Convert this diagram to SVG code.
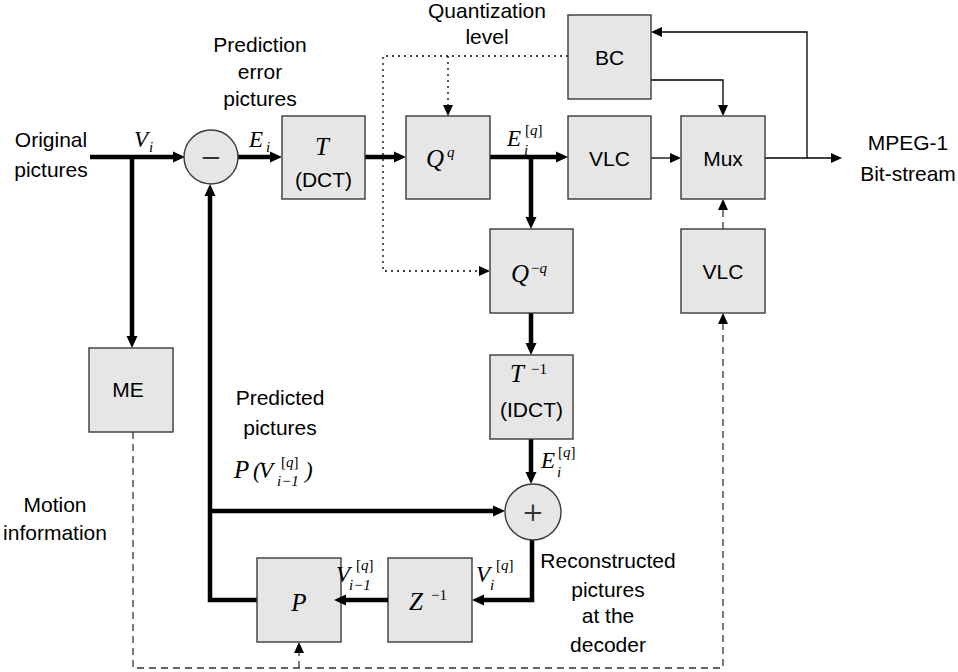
<svg xmlns="http://www.w3.org/2000/svg" width="958" height="672" viewBox="0 0 958 672">
<style>
.box{fill:#e6e6e6;stroke:#3a3a3a;stroke-width:1.4}
.t{font-family:"Liberation Sans","DejaVu Sans",sans-serif;font-size:21px;fill:#000;text-anchor:middle}
.op{font-family:"DejaVu Serif","Liberation Serif",serif;font-size:26px;fill:#333;text-anchor:middle}
.m{font-family:"Liberation Serif","DejaVu Serif",serif;font-style:italic;font-size:23px;fill:#000}
.c{font-family:"Liberation Serif","DejaVu Serif",serif;font-style:italic;font-size:25px;fill:#000}
.s{font-family:"Liberation Serif","DejaVu Serif",serif;font-style:italic;font-size:15px;fill:#000}
.r{font-family:"Liberation Serif","DejaVu Serif",serif;font-size:15px;fill:#000}
.thick{fill:none;stroke:#000;stroke-width:4.5}
.thin{fill:none;stroke:#000;stroke-width:1.3}
.dot{fill:none;stroke:#000;stroke-width:1.3;stroke-dasharray:2,4}
.dash{fill:none;stroke:#333;stroke-width:1.3;stroke-dasharray:7,5}
</style>
<defs>
<marker id="ab" markerUnits="userSpaceOnUse" markerWidth="14" markerHeight="14" refX="0" refY="6" orient="auto" overflow="visible">
<path d="M0,0.5 L12,6 L0,11.5 z" fill="#000"/>
</marker>
<marker id="as" markerUnits="userSpaceOnUse" markerWidth="12" markerHeight="12" refX="0" refY="5" orient="auto" overflow="visible">
<path d="M0,0 L11,5 L0,10 z" fill="#000"/>
</marker>
</defs>

<g id="connectors">
<path class="thick" d="M90,157 H173" marker-end="url(#ab)"/>
<path class="thick" d="M132,157 V336" marker-end="url(#ab)"/>
<path class="thick" d="M238,157 H270" marker-end="url(#ab)"/>
<path class="thick" d="M365,157 H394" marker-end="url(#ab)"/>
<path class="thick" d="M490,157 H556" marker-end="url(#ab)"/>
<path class="thick" d="M531,157 V217" marker-end="url(#ab)"/>
<path class="thick" d="M531,313 V343" marker-end="url(#ab)"/>
<path class="thick" d="M531,439 V472" marker-end="url(#ab)"/>
<path class="thick" d="M532,540 V600 H484" marker-end="url(#ab)"/>
<path class="thick" d="M257,600 H210 V196" marker-end="url(#ab)"/>
<path class="thick" d="M210,511 H493" marker-end="url(#ab)"/>
<path class="thin" d="M651,158 H670" marker-end="url(#as)"/>
<path class="thin" d="M765,158 H831" marker-end="url(#as)"/>
<path class="thin" d="M807,158 V32 H662" marker-end="url(#as)"/>
<path class="thin" d="M651,80 H723 V105" marker-end="url(#as)"/>
<path class="dot" d="M568,56 H383 V271 H479" marker-end="url(#as)"/>
<path class="dot" d="M448,56 V105" marker-end="url(#as)"/>
<path class="dash" d="M133,432 V668 H723 V324" marker-end="url(#as)"/>
<path class="dash" d="M299,668 V653" marker-end="url(#as)"/>
<path class="dash" d="M723,229 V210" marker-end="url(#as)"/>
</g>

<g id="node-sub">
<circle cx="211" cy="157" r="27" class="box"/>
<text x="211" y="166" class="op">−</text>
</g>
<g id="node-T">
<rect x="282" y="116" width="83" height="83" class="box"/>
<text x="322" y="155" class="c" text-anchor="middle">T</text>
<text x="323.5" y="187" class="t">(DCT)</text>
</g>
<g id="node-Q">
<rect x="406" y="116" width="84" height="83" class="box"/>
<text x="426" y="167" class="c">Q</text>
<text x="447" y="157" class="s">q</text>
</g>
<g id="node-VLC1">
<rect x="568" y="116" width="83" height="83" class="box"/>
<text x="609.5" y="166" class="t">VLC</text>
</g>
<g id="node-Mux">
<rect x="681" y="116" width="84" height="83" class="box"/>
<text x="723" y="166" class="t">Mux</text>
</g>
<g id="node-BC">
<rect x="568" y="15" width="83" height="84" class="box"/>
<text x="609.5" y="65" class="t">BC</text>
</g>
<g id="node-Qinv">
<rect x="490" y="229" width="83" height="84" class="box"/>
<text x="511" y="282" class="c">Q</text>
<text x="531" y="273" class="r">−<tspan class="s">q</tspan></text>
</g>
<g id="node-VLC2">
<rect x="681" y="229" width="84" height="84" class="box"/>
<text x="723" y="279" class="t">VLC</text>
</g>
<g id="node-IDCT">
<rect x="490" y="355" width="83" height="84" class="box"/>
<text x="510" y="382" class="c">T</text>
<text x="531" y="374" class="r">−1</text>
<text x="531.5" y="417" class="t">(IDCT)</text>
</g>
<g id="node-ME">
<rect x="89" y="348" width="84" height="84" class="box"/>
<text x="128" y="397" class="t">ME</text>
</g>
<g id="node-add">
<circle cx="533" cy="512" r="28" class="box"/>
<text x="533" y="521" class="op">+</text>
</g>
<g id="node-P">
<rect x="257" y="558" width="84" height="84" class="box"/>
<text x="299" y="611" class="c" text-anchor="middle">P</text>
</g>
<g id="node-Zinv">
<rect x="388" y="558" width="84" height="84" class="box"/>
<text x="409" y="610" class="c">Z</text>
<text x="431" y="600" class="r">−1</text>
</g>
<path class="thick" d="M388,600 H346" marker-end="url(#ab)"/>

<g id="labels">
<text x="51" y="147" class="t">Original</text>
<text x="51" y="177" class="t">pictures</text>
<text x="260" y="52" class="t">Prediction</text>
<text x="260" y="79" class="t">error</text>
<text x="260" y="106" class="t">pictures</text>
<text x="487" y="18" class="t">Quantization</text>
<text x="487" y="44" class="t">level</text>
<text x="908" y="150" class="t">MPEG-1</text>
<text x="908" y="181" class="t">Bit-stream</text>
<text x="280" y="405" class="t">Predicted</text>
<text x="280" y="435" class="t">pictures</text>
<text x="55" y="512" class="t">Motion</text>
<text x="55" y="540" class="t">information</text>
<text x="608" y="568" class="t">Reconstructed</text>
<text x="608" y="597" class="t">pictures</text>
<text x="608" y="623" class="t">at the</text>
<text x="608" y="652" class="t">decoder</text>

<text x="134" y="147" class="m">V</text><text x="149" y="152" class="s">i</text>
<text x="249" y="147" class="m">E</text><text x="266" y="152" class="s">i</text>
<text x="507" y="146" class="m">E</text><text x="524" y="155" class="s">i</text><text x="525" y="135" class="r">[<tspan class="s">q</tspan>]</text>
<text x="541" y="468" class="m">E</text><text x="557" y="477" class="s">i</text><text x="558" y="457" class="r">[<tspan class="s">q</tspan>]</text>
<text x="234" y="478" class="c">P</text><text x="253" y="478" class="m" font-style="normal">(</text><text x="259" y="478" class="m">V</text><text x="281" y="467" class="r">[<tspan class="s">q</tspan>]</text><text x="277" y="486" class="s">i<tspan class="r">−1</tspan></text><text x="305" y="478" class="m" font-style="normal">)</text>
<text x="336" y="582" class="m">V</text><text x="356" y="570" class="r">[<tspan class="s">q</tspan>]</text><text x="349" y="590" class="s">i<tspan class="r">−1</tspan></text>
<text x="476" y="582" class="m">V</text><text x="496" y="570" class="r">[<tspan class="s">q</tspan>]</text><text x="490" y="590" class="s">i</text>
</g>
</svg>
